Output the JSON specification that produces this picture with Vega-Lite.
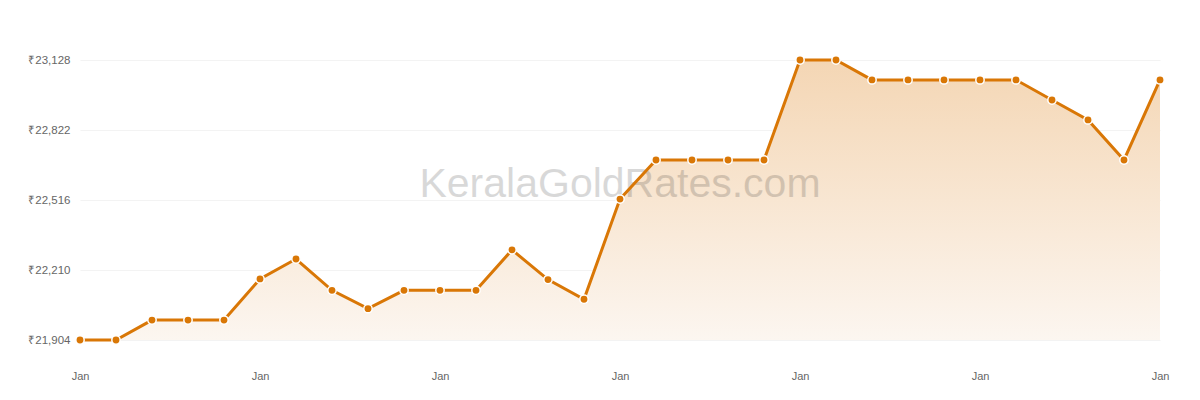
{
  "$schema": "https://vega.github.io/schema/vega-lite/v6.json",
  "width": 1080,
  "height": 280,
  "autosize": {"type": "none"},
  "padding": {"left": 80, "top": 60, "right": 40, "bottom": 60},
  "background": "#ffffff",
  "config": {
    "view": {"stroke": null},
    "font": "Liberation Sans"
  },
  "datasets": {
    "rates": [
      {"day": 1, "rate": 21904},
      {"day": 2, "rate": 21904},
      {"day": 3, "rate": 21991},
      {"day": 4, "rate": 21991},
      {"day": 5, "rate": 21991},
      {"day": 6, "rate": 22171},
      {"day": 7, "rate": 22258},
      {"day": 8, "rate": 22121},
      {"day": 9, "rate": 22041},
      {"day": 10, "rate": 22121},
      {"day": 11, "rate": 22121},
      {"day": 12, "rate": 22121},
      {"day": 13, "rate": 22298},
      {"day": 14, "rate": 22168},
      {"day": 15, "rate": 22082},
      {"day": 16, "rate": 22520},
      {"day": 17, "rate": 22691},
      {"day": 18, "rate": 22691},
      {"day": 19, "rate": 22691},
      {"day": 20, "rate": 22691},
      {"day": 21, "rate": 23128},
      {"day": 22, "rate": 23128},
      {"day": 23, "rate": 23041},
      {"day": 24, "rate": 23041},
      {"day": 25, "rate": 23041},
      {"day": 26, "rate": 23041},
      {"day": 27, "rate": 23041},
      {"day": 28, "rate": 22953},
      {"day": 29, "rate": 22866},
      {"day": 30, "rate": 22691},
      {"day": 31, "rate": 23041}
    ],
    "watermark": [
      {"day": 16, "rate": 22582, "label": "KeralaGoldRates.com"}
    ]
  },
  "encoding": {
    "x": {
      "field": "day",
      "type": "quantitative",
      "scale": {"domain": [1, 31], "nice": false, "zero": false},
      "axis": {
        "title": null,
        "values": [1, 6, 11, 16, 21, 26, 31],
        "labelExpr": "'Jan'",
        "labelFlush": false,
        "labelOverlap": false,
        "grid": false,
        "domain": false,
        "ticks": false,
        "labelPadding": 30,
        "labelColor": "#666666",
        "labelFontSize": 11,
        "labelFont": "Liberation Sans"
      }
    },
    "y": {
      "field": "rate",
      "type": "quantitative",
      "scale": {"domain": [21904, 23128], "nice": false, "zero": false},
      "axis": {
        "title": null,
        "values": [21904, 22210, 22516, 22822, 23128],
        "labelExpr": "'₹' + format(datum.value, ',')",
        "labelFlush": false,
        "grid": true,
        "gridColor": "#f3f3f3",
        "gridWidth": 1,
        "domain": false,
        "ticks": false,
        "labelPadding": 10,
        "labelColor": "#666666",
        "labelFontSize": 11.5,
        "labelFont": "Liberation Sans"
      }
    }
  },
  "layer": [
    {
      "data": {"name": "rates"},
      "mark": {
        "type": "area",
        "clip": false,
        "color": {
          "gradient": "linear",
          "x1": 0, "y1": 0, "x2": 0, "y2": 1,
          "stops": [
            {"offset": 0, "color": "#f4d6b4"},
            {"offset": 1, "color": "#fcf6f0"}
          ]
        }
      },
      "encoding": {
        "y2": {"datum": 21904}
      }
    },
    {
      "data": {"name": "watermark"},
      "mark": {
        "type": "text",
        "fontSize": 41,
        "font": "Liberation Sans",
        "fill": "#000000",
        "opacity": 0.15,
        "align": "center",
        "baseline": "middle",
        "clip": false
      },
      "encoding": {
        "text": {"field": "label"}
      }
    },
    {
      "data": {"name": "rates"},
      "mark": {
        "type": "line",
        "color": "#d97706",
        "strokeWidth": 3,
        "clip": false
      }
    },
    {
      "data": {"name": "rates"},
      "mark": {
        "type": "point",
        "filled": true,
        "fill": "#d97706",
        "stroke": "#ffffff",
        "strokeWidth": 1.5,
        "size": 70,
        "opacity": 1,
        "clip": false
      }
    }
  ]
}
